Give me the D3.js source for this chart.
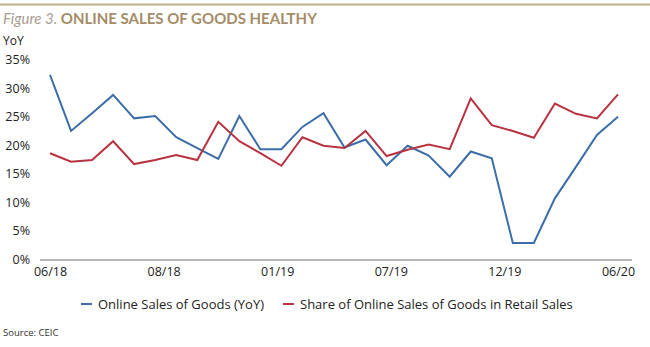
<!DOCTYPE html>
<html>
<head>
<meta charset="utf-8">
<script src="https://cdn.jsdelivr.net/npm/d3@7"></script>
<style>
  body { margin: 0; background: #fff; }
  svg { display: block; font-family: "Open Sans", sans-serif; }
</style>
</head>
<body>
<div id="chart"></div>
<script>
// Data
const xLabels = ['06/18', '08/18', '01/19', '07/19', '12/19', '06/20'];
const yTicks = [0, 5, 10, 15, 20, 25, 30, 35];
const onlineSalesYoY = [32.3, 22.5, 25.6, 28.8, 24.7, 25.1, 21.4, 19.5, 17.6, 25.1,
    19.3, 19.3, 23.2, 25.6, 19.6, 21.0, 16.5, 19.9, 18.2, 14.5,
    18.9, 17.7, 2.9, 2.9, 10.7, 16.2, 21.8, 25.0];
const onlineShare = [18.6, 17.1, 17.4, 20.7, 16.7, 17.4, 18.3, 17.4, 24.1, 20.7,
    18.6, 16.4, 21.4, 19.9, 19.5, 22.5, 18.1, 19.2, 20.1, 19.3,
    28.2, 23.5, 22.5, 21.3, 27.3, 25.5, 24.7, 28.9];
const seriesNames = ['Online Sales of Goods (YoY)', 'Share of Online Sales of Goods in Retail Sales'];
const seriesColors = ['#3b6ea8', '#b8323f'];

const W = 650, H = 347;
const plot = {left: 40, right: 632, x0: 50, x1: 618, top: 59.5, bottom: 259.5};

const svg = d3.select("#chart").append("svg")
    .attr("width", W)
    .attr("height", H);

// Top rule + title
svg.append("line")
    .attr("x1", 0).attr("x2", W)
    .attr("y1", 4.5).attr("y2", 4.5)
    .attr("stroke", "#c2ad8a")
    .attr("stroke-width", 2);

const title = svg.append("text")
    .attr("x", 3).attr("y", 24)
    .style("font-family", "Lato, sans-serif")
    .style("font-size", "15px")
    .attr("fill", "#a58d68");
title.append("tspan").style("font-style", "italic").attr("fill", "#a89e90").text("Figure 3. ");
title.append("tspan").style("font-weight", "bold").text("ONLINE SALES OF GOODS HEALTHY");

svg.append("text")
    .attr("x", 3).attr("y", 45)
    .style("font-size", "12px")
    .attr("fill", "#222")
    .text("YoY");

// Scales
const n = onlineSalesYoY.length;
const x = d3.scaleLinear().domain([0, n - 1]).range([plot.x0, plot.x1]);
const y = d3.scaleLinear().domain([0, 35]).range([plot.bottom, plot.top]);

// Y axis
const yAxis = svg.append("g")
    .attr("transform", `translate(${plot.left},0)`)
    .call(d3.axisLeft(y).tickValues(yTicks).tickSize(0).tickPadding(10).tickFormat(d => d + "%"));
yAxis.select(".domain").remove();
yAxis.selectAll("text").style("font-size", "12.5px").attr("fill", "#222").style("font-family", "Open Sans, sans-serif");

// X axis
const labelPos = xLabels.map((d, i) => i * (n - 1) / (xLabels.length - 1));
const xAxis = svg.append("g")
    .attr("transform", `translate(0,${plot.bottom + 0.5})`)
    .call(d3.axisBottom(x).tickValues(labelPos).tickSize(0).tickPadding(7)
        .tickFormat((d, i) => xLabels[i]));
xAxis.select(".domain").remove();
xAxis.selectAll("text").style("font-size", "12.5px").attr("fill", "#222").style("font-family", "Open Sans, sans-serif");
xAxis.append("line")
    .attr("x1", plot.left).attr("x2", plot.right)
    .attr("stroke", "#6d6d6d").attr("stroke-width", 1);

// Lines
const line = d3.line()
    .x((d, i) => x(i))
    .y(d => y(d));

[onlineSalesYoY, onlineShare].forEach((s, k) => {
    svg.append("path")
        .datum(s)
        .attr("fill", "none")
        .attr("stroke", seriesColors[k])
        .attr("stroke-width", 2)
        .attr("stroke-linejoin", "miter")
        .attr("d", line);
});

// Legend
const legend = svg.append("g").attr("transform", "translate(0,304)");
const legendX = [81, 283];
seriesNames.forEach((name, k) => {
    legend.append("line")
        .attr("x1", legendX[k]).attr("x2", legendX[k] + 11)
        .attr("y1", 0).attr("y2", 0)
        .attr("stroke", seriesColors[k]).attr("stroke-width", 2);
    legend.append("text")
        .attr("x", legendX[k] + 17).attr("y", 0)
        .attr("dy", "0.35em")
        .style("font-size", "13px")
        .attr("fill", "#222")
        .text(name);
});

// Source
svg.append("text")
    .attr("x", 3).attr("y", 336)
    .style("font-size", "9.5px")
    .attr("fill", "#333")
    .text("Source: CEIC");
</script>
</body>
</html>
